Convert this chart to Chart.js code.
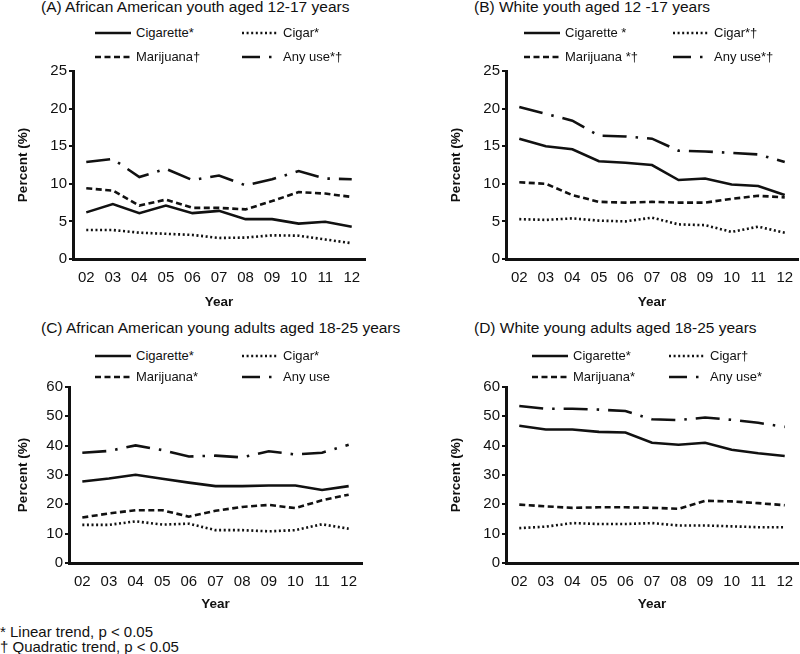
<!DOCTYPE html>
<html>
<head>
<meta charset="utf-8">
<script src="https://cdn.jsdelivr.net/npm/chart.js@4.4.1/dist/chart.umd.min.js"></script>
<style>
  body { margin: 0; background: #fff; }
  #wrap { position: relative; width: 800px; height: 654px; overflow: hidden; font-family: "Liberation Sans", Arial, sans-serif; color: #111; }
  canvas { position: absolute; }
  .title { position: absolute; font-size: 15.5px; white-space: nowrap; line-height: 18px; }
  .leg { position: absolute; font-size: 13px; white-space: nowrap; line-height: 16px; display: flex; align-items: center; }
  .leg svg { display: block; margin-right: 5px; }
  .note { position: absolute; left: 0; font-size: 15px; line-height: 16px; white-space: nowrap; }
</style>
</head>
<body>
<div id="wrap">
  <div class="title" style="left:41px; top:-2px;">(A) African American youth aged 12-17 years</div>
  <div class="title" style="left:474px; top:-2px;">(B) White youth aged 12 -17 years</div>
  <div class="title" style="left:41px; top:319px;">(C) African American young adults aged 18-25 years</div>
  <div class="title" style="left:474px; top:319px;">(D) White young adults aged 18-25 years</div>
  <div class="note" style="top:624px;">* Linear trend, p &lt; 0.05</div>
  <div class="note" style="top:639px;">† Quadratic trend, p &lt; 0.05</div>
</div>
<script>
// years on the x axis (2002-2012)
const years = ['02', '03', '04', '05', '06', '07', '08', '09', '10', '11', '12'];

// (A) African American youth 12-17
const aaYouthCig = [6.2, 7.3, 6.1, 7.1, 6.1, 6.4, 5.3, 5.3, 4.7, 4.95, 4.3];
const aaYouthCigar = [3.85, 3.85, 3.5, 3.35, 3.2, 2.8, 2.85, 3.15, 3.1, 2.6, 2.1];
const aaYouthMj = [9.4, 9.1, 7.1, 7.9, 6.8, 6.8, 6.6, 7.7, 8.9, 8.7, 8.25];
const aaYouthAny = [12.9, 13.3, 10.9, 12.0, 10.5, 11.1, 9.8, 10.6, 11.7, 10.7, 10.6];

// (B) White youth 12-17
const wYouthCig = [16.0, 15.0, 14.6, 13.0, 12.8, 12.5, 10.5, 10.7, 9.9, 9.7, 8.5];
const wYouthCigar = [5.3, 5.2, 5.4, 5.1, 5.0, 5.5, 4.6, 4.5, 3.6, 4.3, 3.5];
const wYouthMj = [10.2, 10.0, 8.5, 7.6, 7.5, 7.6, 7.5, 7.5, 8.0, 8.4, 8.2];
const wYouthAny = [20.2, 19.3, 18.4, 16.4, 16.3, 16.0, 14.4, 14.3, 14.1, 13.9, 12.9];

// (C) African American young adults 18-25
const aaAdultCig = [27.8, 28.8, 30.1, 28.7, 27.4, 26.2, 26.2, 26.4, 26.4, 24.9, 26.2];
const aaAdultCigar = [13.0, 13.0, 14.2, 13.1, 13.4, 11.2, 11.2, 10.8, 11.2, 13.2, 11.7];
const aaAdultMj = [15.5, 16.9, 18.0, 18.0, 15.8, 17.8, 19.1, 19.8, 18.7, 21.4, 23.3];
const aaAdultAny = [37.6, 38.2, 40.1, 38.5, 36.3, 36.6, 36.0, 38.1, 37.0, 37.6, 40.3];

// (D) White young adults 18-25
const wAdultCig = [46.8, 45.5, 45.5, 44.7, 44.5, 41.0, 40.3, 41.0, 38.6, 37.4, 36.5];
const wAdultCigar = [11.9, 12.4, 13.6, 13.3, 13.3, 13.6, 12.8, 12.8, 12.5, 12.2, 12.2];
const wAdultMj = [19.9, 19.3, 18.8, 19.0, 19.0, 18.8, 18.5, 21.2, 21.0, 20.4, 19.7];
const wAdultAny = [53.5, 52.6, 52.6, 52.3, 51.8, 49.0, 48.7, 49.6, 48.8, 47.8, 46.4];

// y axis ranges
const youthMax = 25, youthStep = 5;
const adultMax = 60, adultStep = 10;

const styles = {
    cig: [],
    cigar: [2, 2.6],
    mj: [6, 3.5],
    any: [24, 9, 2.5, 9]
};

const FONT = '"Liberation Sans", Arial, sans-serif';
const wrap = document.getElementById('wrap');

function legendItem(x, y, text, dash, w) {
    const d = document.createElement('div');
    d.className = 'leg';
    d.style.left = x + 'px';
    d.style.top = (y - 8) + 'px';
    const svgNS = 'http://www.w3.org/2000/svg';
    const svg = document.createElementNS(svgNS, 'svg');
    svg.setAttribute('width', w);
    svg.setAttribute('height', 6);
    const ln = document.createElementNS(svgNS, 'line');
    ln.setAttribute('x1', 0); ln.setAttribute('x2', w);
    ln.setAttribute('y1', 3); ln.setAttribute('y2', 3);
    ln.setAttribute('stroke', '#111');
    ln.setAttribute('stroke-width', 2.6);
    if (dash === 'any') ln.setAttribute('stroke-dasharray', '18 9 2.5 100');
    else if (dash.length) ln.setAttribute('stroke-dasharray', dash.join(' '));
    svg.appendChild(ln);
    d.appendChild(svg);
    d.appendChild(document.createTextNode(text));
    wrap.appendChild(d);
}

function makePanel(p) {
    const c = document.createElement('canvas');
    c.width = p.w; c.height = p.h;
    c.style.left = p.left + 'px';
    c.style.top = p.top + 'px';
    wrap.appendChild(c);

    const yw = p.area.l - p.left;
    const xh = p.top + p.h - p.area.b;

    const ds = (data, dash) => ({
        data: data,
        borderColor: '#111',
        borderWidth: 2.6,
        borderDash: dash,
        borderCapStyle: 'butt',
        pointRadius: 0,
        tension: 0,
        fill: false
    });

    new Chart(c.getContext('2d'), {
        type: 'line',
        data: {
            labels: years,
            datasets: [
                ds(p.cig, styles.cig),
                ds(p.cigar, styles.cigar),
                ds(p.mj, styles.mj),
                ds(p.any, styles.any)
            ]
        },
        options: {
            responsive: false,
            animation: false,
            devicePixelRatio: 1,
            layout: { padding: { left: 0, right: p.left + p.w - p.area.r, top: p.area.t - p.top, bottom: 0 } },
            plugins: { legend: { display: false }, tooltip: { enabled: false } },
            scales: {
                x: {
                    offset: true,
                    grid: { display: false },
                    border: { display: true, color: '#111', width: 3 },
                    ticks: { color: '#111', font: { family: FONT, size: 15 }, padding: 2, maxRotation: 0, autoSkip: false },
                    title: { display: true, text: 'Year', color: '#111', font: { family: FONT, size: 13.5, weight: 'bold' }, padding: { top: 4, bottom: 0 } },
                    afterFit: s => { s.height = xh; }
                },
                y: {
                    min: 0,
                    max: p.max,
                    grid: { drawOnChartArea: false, drawTicks: true, tickLength: 4, color: '#111', lineWidth: 2 },
                    border: { display: true, color: '#111', width: 3 },
                    ticks: { stepSize: p.step, color: '#111', font: { family: FONT, size: 15 }, padding: 2 },
                    title: { display: true, text: 'Percent (%)', color: '#111', font: { family: FONT, size: 13.5, weight: 'bold' }, padding: { top: p.titleX - p.left - 8, bottom: 4 } },
                    afterFit: s => { s.width = yw; }
                }
            }
        }
    });

    const L = p.legend;
    legendItem(L.c1, L.r1, L.t[0], styles.cig, L.sw);
    legendItem(L.c2, L.r1, L.t[1], styles.cigar, L.sw);
    legendItem(L.c1, L.r2, L.t[2], styles.mj, L.sw);
    legendItem(L.c2, L.r2, L.t[3], 'any', L.sw);
}

makePanel({
    left: 0, top: 60, w: 400, h: 250, titleX: 23,
    area: { l: 73, r: 365, t: 71, b: 259 },
    max: youthMax, step: youthStep,
    cig: aaYouthCig, cigar: aaYouthCigar, mj: aaYouthMj, any: aaYouthAny,
    legend: { c1: 95, c2: 242, r1: 33, r2: 57, sw: 36, t: ['Cigarette*', 'Cigar*', 'Marijuana†', 'Any use*†'] }
});
makePanel({
    left: 400, top: 60, w: 400, h: 250, titleX: 456,
    area: { l: 506, r: 798, t: 71, b: 259 },
    max: youthMax, step: youthStep,
    cig: wYouthCig, cigar: wYouthCigar, mj: wYouthMj, any: wYouthAny,
    legend: { c1: 524, c2: 673, r1: 33, r2: 57, sw: 36, t: ['Cigarette *', 'Cigar*†', 'Marijuana *†', 'Any use*†'] }
});
makePanel({
    left: 0, top: 370, w: 400, h: 242, titleX: 23,
    area: { l: 69, r: 362, t: 387, b: 563 },
    max: adultMax, step: adultStep,
    cig: aaAdultCig, cigar: aaAdultCigar, mj: aaAdultMj, any: aaAdultAny,
    legend: { c1: 95, c2: 242, r1: 356, r2: 377, sw: 36, t: ['Cigarette*', 'Cigar*', 'Marijuana*', 'Any use'] }
});
makePanel({
    left: 400, top: 370, w: 400, h: 242, titleX: 456,
    area: { l: 506, r: 798, t: 387, b: 563 },
    max: adultMax, step: adultStep,
    cig: wAdultCig, cigar: wAdultCigar, mj: wAdultMj, any: wAdultAny,
    legend: { c1: 532, c2: 669, r1: 356, r2: 377, sw: 36, t: ['Cigarette*', 'Cigar†', 'Marijuana*', 'Any use*'] }
});
</script>
</body>
</html>
